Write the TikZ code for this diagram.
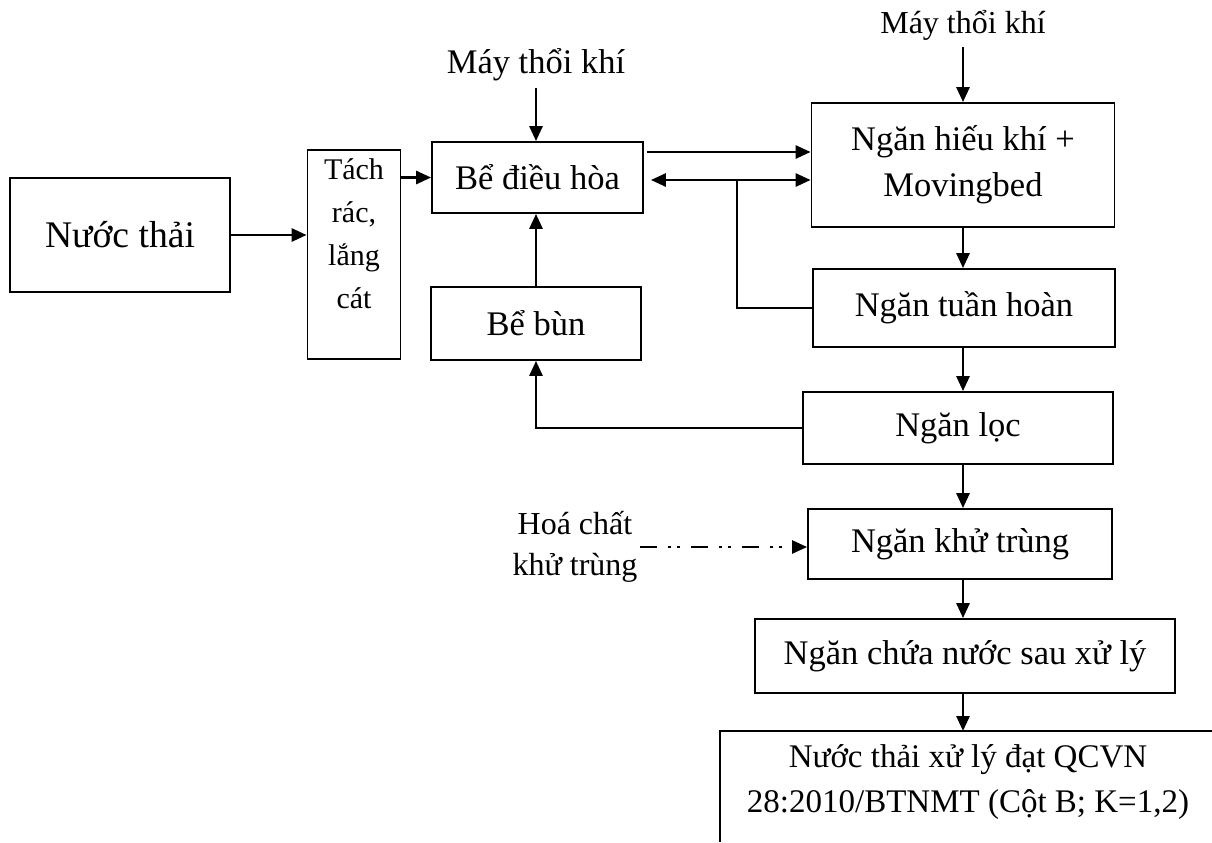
\documentclass[tikz,border=0pt]{standalone}
\usepackage{fontspec}
\setmainfont{Liberation Serif}
\usetikzlibrary{arrows.meta,calc}

\begin{document}
\begin{tikzpicture}[x=0.5pt, y=-0.5pt,
  box/.style={draw, line width=0.9pt, align=center, inner sep=0pt,
    font=\fontsize{17.25}{23}\selectfont},
  lbl/.style={align=center, font=\fontsize{17.25}{23}\selectfont},
  arr/.style={-{Triangle[length=7.5pt,width=6.5pt]}, line width=1.4pt},
  dda/.style={-{Triangle[length=7.5pt,width=6.5pt]}, line width=1.2pt,
    dash pattern=on 8.5pt off 5.5pt on 1.5pt off 3pt on 1.5pt off 5.5pt}]
  \useasboundingbox (0,0) rectangle (1212,842);

  % boxes
  \node[box, minimum width=110pt, minimum height=57pt,
    font=\fontsize{18.8}{23}\selectfont] (nuoc) at (120,235) {Nước thải};
  \node[box, minimum width=46.5pt, minimum height=104.5pt] (tach) at (354,254.5) {};
  \node[lbl, anchor=north, font=\fontsize{15}{21.5}\selectfont, inner sep=0pt]
    (tachtxt) at ($(tach.north)+(0,9)$) {Tách\\rác,\\lắng\\cát};
  \node[box, minimum width=105.5pt, minimum height=35.5pt] (dieuhoa) at (537.5,177.5) {Bể điều hòa};
  \node[box, minimum width=105pt, minimum height=36.5pt] (bun) at (536,323.5) {Bể bùn};
  \node[box, minimum width=151.5pt, minimum height=62pt] (hieukhi) at (963,165)
    {Ngăn hiếu khí +\\Movingbed};
  \node[box, minimum width=151pt, minimum height=39pt] (tuanhoan) at (964,308) {Ngăn tuần hoàn};
  \node[box, minimum width=155pt, minimum height=36pt] (loc) at (958,428) {Ngăn lọc};
  \node[box, minimum width=152pt, minimum height=35pt] (khutrung) at (960,544) {Ngăn khử trùng};
  \node[box, minimum width=210pt, minimum height=37pt] (chua) at (965,656) {Ngăn chứa nước sau xử lý};

  % result, cut by the page edge
  \draw[line width=0.9pt] (1212,731) -| (720,842);
  \coordinate (kq) at (963,731);
  \node[lbl, font=\fontsize{16.5}{22.5}\selectfont] (ketqua) at (968,782)
    {Nước thải xử lý đạt QCVN\\28:2010/BTNMT (Cột B; K=1,2)};

  % labels
  \node[lbl, anchor=base] (may1) at (536,73) {Máy thổi khí};
  \node[lbl, anchor=base, font=\fontsize{16}{20}\selectfont] (may2) at (963,33) {Máy thổi khí};
  \node[lbl, font=\fontsize{16}{20.5}\selectfont, inner sep=1pt] (hoachat) at (575,547)
    {Hoá chất\\khử trùng};

  % flows
  \draw[arr] (nuoc.east) -- (nuoc.east -| tach.west);
  \draw[arr] (tach.east |- dieuhoa.west) -- (dieuhoa.west);
  \draw[arr] (may1) -- (may1 |- dieuhoa.north);
  \draw[arr] (may2) -- (may2 |- hieukhi.north);
  \draw[arr] ([xshift=1.5pt, yshift=12.75pt]dieuhoa.east) -- ([yshift=12.75pt]dieuhoa.east -| hieukhi.west);
  \draw[arr, {Triangle[length=7.5pt,width=6.5pt]}-{Triangle[length=7.5pt,width=6.5pt]}]
    ([xshift=3.5pt, yshift=-1.25pt]dieuhoa.east) -- ([yshift=-1.25pt]dieuhoa.east -| hieukhi.west);
  \coordinate (branch) at (737,180);
  \draw[line width=0.9pt] (branch) |- (tuanhoan.west);
  \draw[arr] (bun.north) -- (bun.north |- dieuhoa.south);
  \draw[arr] (hieukhi.south) -- (hieukhi.south |- tuanhoan.north);
  \draw[arr] (hieukhi.south |- tuanhoan.south) -- (hieukhi.south |- loc.north);
  \draw[arr] (loc.west) -| (bun.south);
  \draw[arr] (hieukhi.south |- loc.south) -- (hieukhi.south |- khutrung.north);
  \draw[dda] (hoachat.east) -- (hoachat.east -| khutrung.west);
  \draw[arr] (kq |- khutrung.south) -- (kq |- chua.north);
  \draw[arr] (kq |- chua.south) -- (kq);
\end{tikzpicture}
\end{document}
